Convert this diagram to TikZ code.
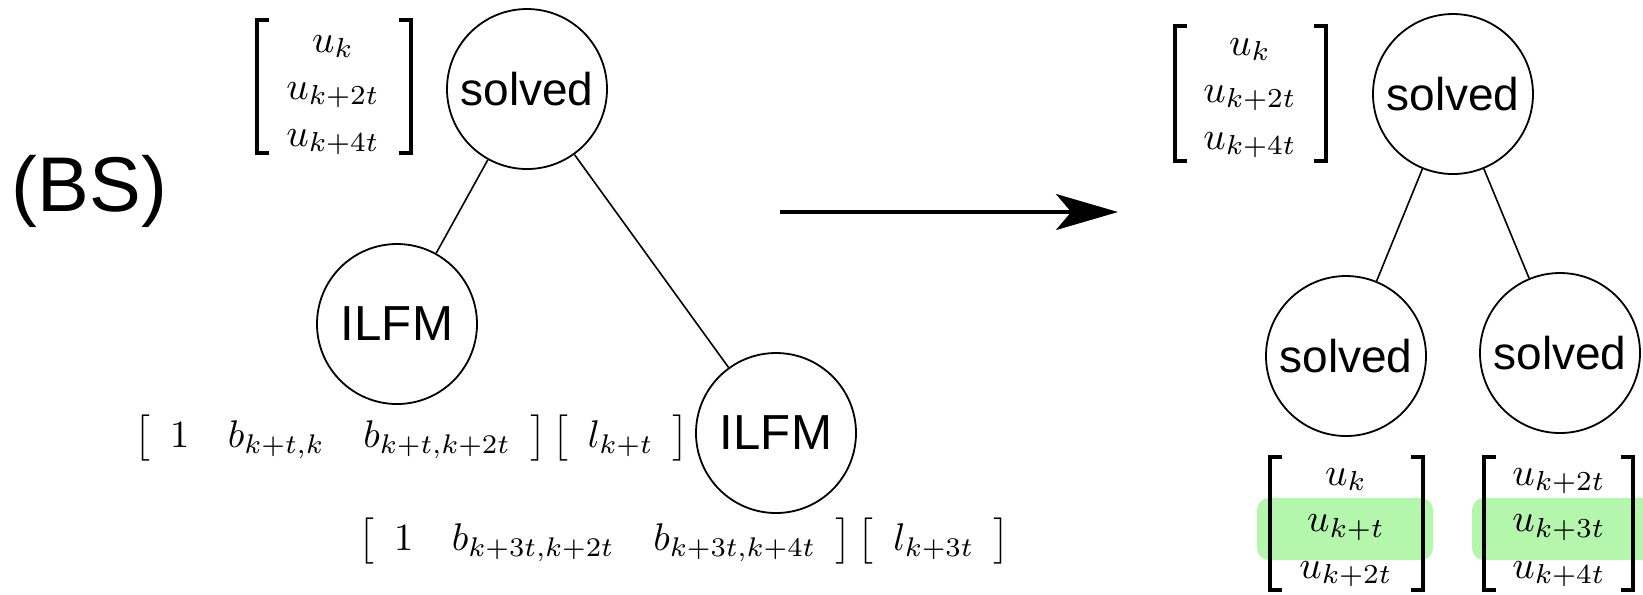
\documentclass[tikz,border=0pt]{standalone}
\usepackage{fontspec}
\setsansfont{Liberation Sans}
\usetikzlibrary{arrows.meta}
\definecolor{hlgreen}{RGB}{180,246,172}

% square brackets around a column vector: left x, right x, top y, bottom y
\newcommand\colbrackets[4]{%
  \draw[brk] (#1+12,#3) -- (#1,#3) -- (#1,#4) -- (#1+12,#4);
  \draw[brk] (#2-12,#3) -- (#2,#3) -- (#2,#4) -- (#2-12,#4);}

\begin{document}
\begin{tikzpicture}[x=0.25pt,y=-0.25pt,
  tnode/.style={circle,draw,line width=0.45pt,minimum size=40pt,inner sep=0pt},
  solvedtxt/.style={font=\sffamily\fontsize{11.5}{13}\selectfont},
  ilfmtxt/.style={font=\sffamily\fontsize{12.3}{14}\selectfont},
  edge/.style={line width=0.4pt},
  entry/.style={anchor=base,inner sep=0pt,scale=0.98},
  rowvec/.style={anchor=west,inner sep=0pt,scale=0.963},
  brk/.style={line width=0.85pt},
  hl/.style={fill=hlgreen,rounded corners=3pt},
  bigarrow/.style={line width=0.9pt,-{Stealth[length=15.5pt,width=9pt,inset=3.8pt]}}
]
\useasboundingbox (0,0) rectangle (1643,594);

% ---- label ----
\node[anchor=base west,inner sep=0pt,font=\sffamily\fontsize{19.4}{22}\selectfont] (bs) at (11,211) {(BS)};

% ---- left tree: back substitution step ----
\node[tnode,solvedtxt] (s0) at (527,89) {solved};
\node[tnode,ilfmtxt] (f1) at (397,324) {ILFM};
\node[tnode,ilfmtxt] (f2) at (776,433) {ILFM};
\draw[edge] (s0) -- (f1);
\draw[edge] (s0) -- (f2);

\colbrackets{257}{411}{20}{153}
\node[entry] (ua0) at (333,52)  {$u_k$};
\node[entry] (ua1) at (333,99)  {$u_{k+2t}$};
\node[entry] (ua2) at (333,146) {$u_{k+4t}$};

\node[rowvec] (r1) at (134,438.5)
  {$\left[\begin{array}{ccc}1 & b_{k+t,k} & b_{k+t,k+2t}\end{array}\right]\left[\begin{array}{c}l_{k+t}\end{array}\right]$};
\node[rowvec] (r2) at (358,541.5)
  {$\left[\begin{array}{ccc}1 & b_{k+3t,k+2t} & b_{k+3t,k+4t}\end{array}\right]\left[\begin{array}{c}l_{k+3t}\end{array}\right]$};

% ---- transition arrow ----
\coordinate (a0) at (780,212);
\coordinate (a1) at (1118,212);
\draw[bigarrow] (a0) -- (a1);

% ---- right tree: all nodes solved ----
\node[tnode,solvedtxt] (t0) at (1453,94) {solved};
\node[tnode,solvedtxt] (t1) at (1346,356) {solved};
\node[tnode,solvedtxt] (t2) at (1560,353) {solved};
\draw[edge] (t0) -- (t1);
\draw[edge] (t0) -- (t2);

\colbrackets{1175}{1326}{26}{161}
\node[entry] (ub0) at (1250,55)  {$u_k$};
\node[entry] (ub1) at (1250,102) {$u_{k+2t}$};
\node[entry] (ub2) at (1250,149) {$u_{k+4t}$};

% highlighted middle rows
\fill[hl] (1257,498) rectangle (1433,560);
\fill[hl] (1472,498) rectangle (1670,560);

\colbrackets{1270}{1423}{457}{590}
\node[entry] (uc0) at (1346,485)   {$u_k$};
\node[entry] (uc1) at (1346,531.5) {$u_{k+t}$};
\node[entry] (uc2) at (1346,578)   {$u_{k+2t}$};

\colbrackets{1484}{1633}{457}{590}
\node[entry] (ud0) at (1559,485)   {$u_{k+2t}$};
\node[entry] (ud1) at (1559,531.5) {$u_{k+3t}$};
\node[entry] (ud2) at (1559,578)   {$u_{k+4t}$};
\end{tikzpicture}
\end{document}
